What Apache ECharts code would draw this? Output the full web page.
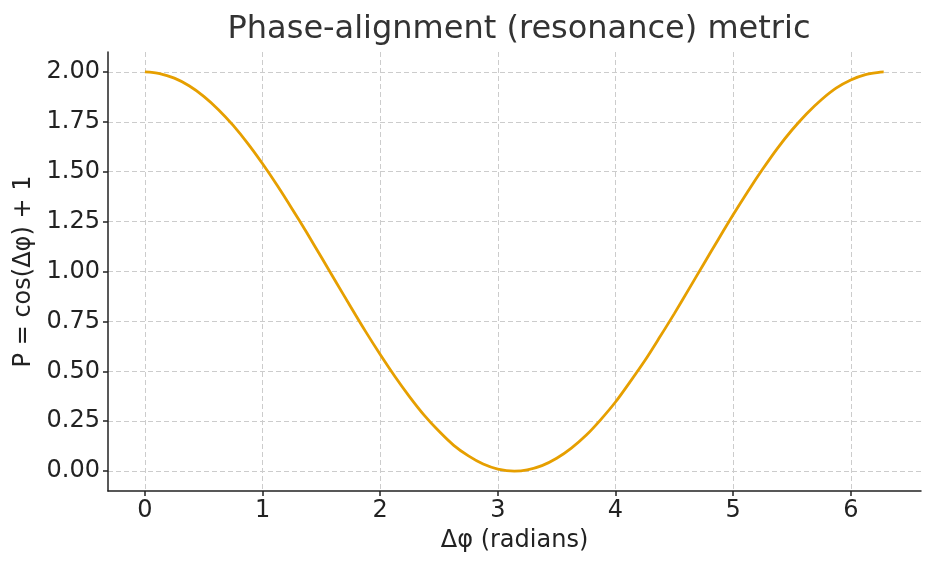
<!DOCTYPE html>
<html><head><meta charset="utf-8">
<script src="https://cdn.jsdelivr.net/npm/echarts@6/dist/echarts.min.js"></script>
<style>html,body{margin:0;padding:0;background:#fff}#c{width:936px;height:570px}</style>
</head><body><div id="c"></div>
<script>
const phaseDiff = [0, 0.125, 0.25, 0.375, 0.5, 0.625, 0.75, 0.875, 1.0, 1.125, 1.25, 1.375, 1.5, 1.625, 1.75, 1.875, 2.0, 2.125, 2.25, 2.375, 2.5, 2.625, 2.75, 2.875, 3.0, 3.14, 3.25, 3.375, 3.5, 3.625, 3.75, 3.875, 4.0, 4.125, 4.25, 4.375, 4.5, 4.625, 4.75, 4.875, 5.0, 5.125, 5.25, 5.375, 5.5, 5.625, 5.75, 5.875, 6.0, 6.125, 6.25, 6.28];
const metric = [2.000, 1.992, 1.969, 1.931, 1.878, 1.811, 1.732, 1.641, 1.540, 1.431, 1.315, 1.195, 1.071, 0.946, 0.822, 0.700, 0.584, 0.474, 0.372, 0.279, 0.199, 0.129, 0.076, 0.035, 0.010, 0.000, 0.006, 0.027, 0.064, 0.115, 0.179, 0.258, 0.346, 0.448, 0.554, 0.670, 0.789, 0.913, 1.038, 1.162, 1.284, 1.401, 1.512, 1.616, 1.709, 1.791, 1.861, 1.919, 1.960, 1.987, 1.999, 2.000];
const xTicks = [0, 1, 2, 3, 4, 5, 6];
const yTicks = [0, 0.25, 0.5, 0.75, 1.0, 1.25, 1.5, 1.75, 2.0];
const titleText = 'Phase-alignment (resonance) metric';
const xName = 'Δφ (radians)';
const yName = 'P = cos(Δφ) + 1';

const font = 'DejaVu Sans';
const chart = echarts.init(document.getElementById('c'), null, {renderer: 'canvas'});
const grid = {left: 108, right: 15, top: 52, bottom: 79};
chart.setOption({
  animation: false,
  backgroundColor: '#fff',
  title: {text: titleText, left: 514, top: 9, textAlign: 'center',
    textStyle: {fontFamily: font, fontSize: 32, fontWeight: 'normal', color: '#333'}},
  grid: grid,
  xAxis: {
    type: 'value', min: -0.314, max: 6.597,
    name: xName, nameLocation: 'middle', nameGap: 38,
    nameTextStyle: {fontFamily: font, fontSize: 24, color: '#222'},
    axisLine: {show: true, onZero: false, lineStyle: {color: '#222', width: 1.5}},
    axisTick: {show: true, inside: false, length: 5, customValues: xTicks, lineStyle: {color: '#222', width: 1.5}},
    axisLabel: {customValues: xTicks, fontFamily: font, fontSize: 24, color: '#222', margin: 8,
      formatter: v => String(v)},
    splitLine: {show: true, lineStyle: {color: '#cccccc', type: [5, 3], width: 1}}
  },
  yAxis: {
    type: 'value', min: -0.1, max: 2.1,
    name: yName, nameLocation: 'middle', nameGap: 72, nameRotate: 90,
    nameTextStyle: {fontFamily: font, fontSize: 24, color: '#222'},
    axisLine: {show: true, onZero: false, lineStyle: {color: '#222', width: 1.5}},
    axisTick: {show: true, inside: false, length: 5, customValues: yTicks, lineStyle: {color: '#222', width: 1.5}},
    axisLabel: {customValues: yTicks, fontFamily: font, fontSize: 24, color: '#222', margin: 8,
      formatter: v => v.toFixed(2)},
    splitLine: {show: true, lineStyle: {color: '#cccccc', type: [5, 3], width: 1}}
  },
  series: [{
    type: 'line', smooth: 0.3, showSymbol: false,
    data: phaseDiff.map((x, i) => [x, metric[i]]),
    lineStyle: {color: '#E69F00', width: 2.8},
    itemStyle: {color: '#E69F00'}
  }]
});
</script></body></html>
